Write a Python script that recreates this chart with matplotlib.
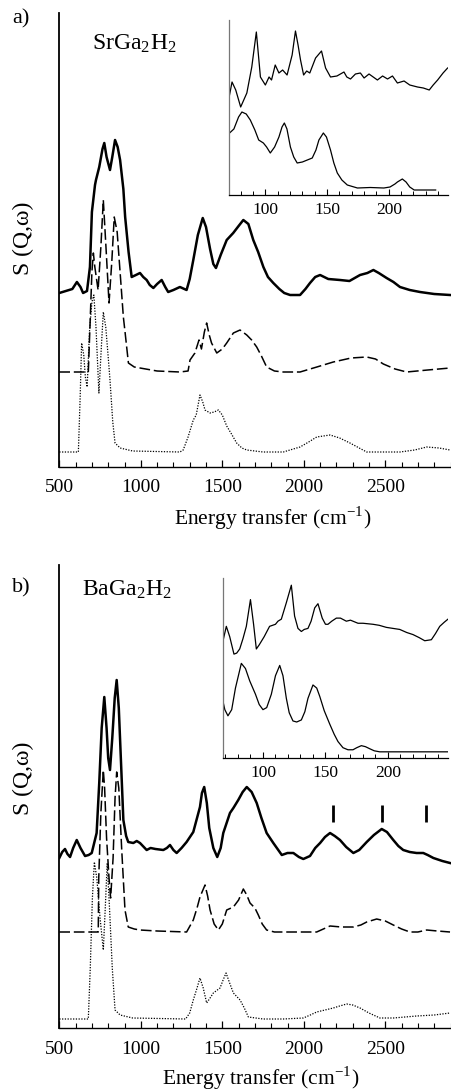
import numpy as np
import matplotlib.pyplot as plt

plt.rcParams['font.family'] = ['Liberation Serif', 'DejaVu Serif']
plt.rcParams['mathtext.fontset'] = 'stix'

# ---------------- panel a) SrGa2H2 (energy in cm-1, intensity in arb. units) ----------------
a_exp_e = [500, 540, 580, 608, 630, 646, 670, 688, 700, 719, 725, 745, 765, 776, 790, 811, 825, 842,
           858, 873, 893, 904, 925, 944, 970, 995, 1015, 1036, 1055, 1077, 1100, 1128, 1150, 1168, 1200,
           1240, 1281, 1300, 1322, 1350, 1380, 1400, 1425, 1445, 1461, 1490, 1527, 1567, 1600, 1629, 1660,
           1690, 1720, 1752, 1780, 1813, 1850, 1880, 1916, 1977, 2010, 2038, 2070, 2100, 2150, 2222, 2280,
           2345, 2390, 2427, 2460, 2508, 2550, 2590, 2650, 2713, 2800, 2897]
a_exp_v = [174, 176, 178, 185, 180, 174, 176, 200, 255, 282, 287, 300, 318, 324, 310, 297, 310, 327,
           320, 307, 278, 250, 215, 190, 192, 194, 190, 187, 182, 179, 183, 187, 180, 175, 177,
           180, 177, 188, 207, 232, 249, 240, 218, 203, 199, 212, 227, 234, 241, 247, 243,
           227, 215, 200, 190, 184, 178, 174, 172, 172, 178, 184, 190, 192, 188, 187, 186,
           192, 194, 197, 194, 189, 185, 180, 177, 175, 173, 172]

a_calc_e = [500, 600, 678, 688, 700, 709, 718, 738, 755, 770, 788, 805, 822, 837, 855, 872, 893, 904,
            924, 960, 995, 1100, 1240, 1290, 1302, 1332, 1357, 1372, 1390, 1404, 1420, 1434, 1466, 1500,
            1527, 1568, 1609, 1650, 1680, 1711, 1740, 1772, 1820, 1874, 1977, 2080, 2181, 2290, 2386,
            2440, 2488, 2560, 2631, 2760, 2897]
a_calc_v = [95, 95, 95, 140, 195, 214, 200, 177, 220, 267, 215, 164, 205, 250, 235, 197, 150, 134,
            104, 100, 99, 96, 95, 96, 107, 114, 127, 118, 135, 144, 132, 124, 114, 118,
            124, 134, 137, 132, 127, 120, 111, 100, 96, 95, 95, 100, 105, 109, 110,
            108, 103, 98, 95, 97, 99]

a_dft_e = [500, 600, 617, 628, 637, 650, 660, 671, 685, 700, 712, 725, 743, 758, 770, 785, 800, 811,
           828, 842, 873, 950, 1240, 1260, 1290, 1322, 1340, 1363, 1380, 1394, 1425, 1450, 1476, 1500,
           1527, 1560, 1588, 1620, 1650, 1750, 1874, 1977, 2030, 2079, 2161, 2220, 2283, 2340, 2386,
           2500, 2590, 2680, 2754, 2830, 2897]
a_dft_v = [15, 15, 15, 70, 124, 112, 90, 80, 135, 165, 172, 140, 74, 120, 155, 140, 110, 87,
           45, 24, 19, 16, 15, 17, 30, 47, 52, 72, 65, 57, 54, 55, 57, 52,
           41, 32, 24, 19, 17, 15, 15, 20, 25, 30, 32, 29, 24, 19, 15,
           15, 15, 17, 20, 19, 17]

ins_a_exp_e = [70.5, 73, 76, 80, 85, 89, 92.7, 96, 100, 103, 105, 108, 111, 114, 117.6, 121.7, 124.4,
               126.5, 128.5, 131, 133.5, 136, 140.7, 145.5, 148.8, 152.8, 158, 163.7, 166, 169, 173,
               177, 180, 184, 190.8, 195, 199, 203, 207, 212.4, 217, 223.3, 228, 232.8, 236, 239.6,
               244, 247.7]
ins_a_exp_v = [97, 113, 105, 88, 102, 128, 163, 118, 110, 118, 115, 130, 122, 125, 120, 140, 164,
               150, 135, 120, 124, 122, 137, 144, 127, 118, 119, 123, 118, 116, 121,
               122, 117, 121, 115, 119, 116, 119, 112, 114, 110, 108, 107, 105, 110, 115,
               122, 127]
ins_a_calc_e = [71, 74.5, 78.3, 81, 84.5, 87.8, 91.5, 94.6, 98.4, 101, 104, 107.5, 111, 113.5, 115.4,
                117.5, 120.3, 123, 125.8, 130, 134, 138, 141, 143.4, 147, 149.5, 152.8, 155.5, 158.3,
                162, 166.4, 174.6, 185, 196, 201, 205, 207, 211, 214, 217, 220.6, 230, 238]
ins_a_calc_v = [62, 66, 78, 83, 81, 75, 65, 55, 52, 48, 42, 48, 58, 68, 72,
                66, 48, 38, 32, 33, 35, 37, 45, 55, 62, 58, 45, 32, 22,
                15, 10, 7, 7.5, 7, 8, 11, 13, 16, 13, 8, 5, 5, 5]

# ---------------- panel b) BaGa2H2 ----------------
b_exp_e = [500, 518, 535, 550, 566, 585, 607, 630, 658, 680, 699, 729, 745, 760, 776, 790, 800, 811,
           825, 840, 852, 865, 880, 893, 910, 923, 954, 975, 995, 1036, 1060, 1090, 1138, 1160, 1179,
           1200, 1220, 1250, 1281, 1322, 1363, 1375, 1389, 1405, 1420, 1445, 1469, 1490, 1506, 1547,
           1568, 1598, 1625, 1650, 1680, 1711, 1740, 1772, 1813, 1865, 1900, 1936, 1970, 1997, 2038,
           2070, 2100, 2130, 2161, 2190, 2222, 2260, 2304, 2340, 2386, 2430, 2478, 2510, 2549, 2580,
           2610, 2650, 2692, 2733, 2760, 2795, 2850, 2897]
b_exp_v = [170, 176, 179, 174, 171, 180, 188, 180, 172, 173, 175, 195, 245, 300, 331, 300, 270, 258,
           290, 330, 348, 320, 260, 208, 192, 186, 185, 187, 185, 178, 180, 179, 178, 180, 183,
           178, 175, 180, 186, 196, 221, 235, 241, 225, 200, 180, 171, 180, 195, 215,
           220, 228, 236, 241, 236, 225, 210, 195, 185, 173, 175, 175, 171, 169, 172,
           180, 185, 191, 195, 192, 188, 181, 175, 178, 186, 193, 199, 196, 188, 182,
           178, 176, 175, 175, 173, 170, 167, 165]

b_calc_e = [500, 600, 700, 739, 742, 755, 770, 778, 790, 805, 815, 830, 842, 852, 865, 883, 903, 923,
            960, 995, 1100, 1281, 1322, 1345, 1363, 1394, 1410, 1425, 1450, 1476, 1500, 1527, 1568, 1600,
            1629, 1650, 1670, 1700, 1721, 1745, 1772, 1820, 1874, 2079, 2120, 2161, 2230, 2304, 2350,
            2386, 2447, 2500, 2549, 2600, 2651, 2700, 2754, 2820, 2897]
b_calc_v = [96, 96, 96, 96, 150, 215, 258, 240, 190, 150, 130, 170, 230, 256, 240, 178, 118, 101,
            99, 98, 97, 96, 108, 120, 131, 143, 132, 118, 104, 98, 104, 118, 121, 128,
            139, 133, 125, 120, 113, 104, 98, 96, 96, 96, 99, 102, 101, 101, 103,
            106, 109, 107, 103, 99, 96, 96, 98, 97, 96]

b_dft_e = [500, 600, 678, 690, 703, 715, 730, 750, 770, 782, 794, 808, 825, 842, 873, 950, 1275,
           1300, 1322, 1345, 1363, 1383, 1404, 1425, 1445, 1486, 1505, 1523, 1545, 1568, 1609, 1635,
           1660, 1750, 1874, 1997, 2040, 2079, 2130, 2181, 2220, 2263, 2300, 2345, 2400, 2467, 2550,
           2692, 2800, 2897]
b_dft_v = [9, 9, 9, 60, 130, 166, 150, 110, 78, 120, 165, 120, 60, 18, 13, 10, 9,
           15, 28, 40, 50, 40, 25, 30, 35, 40, 48, 55, 45, 35, 28, 20,
           11, 9, 9, 10, 13, 16, 18, 20, 22, 24, 23, 20, 15, 10, 10,
           12, 13, 15]

b_marks = [2180, 2480, 2750]

ins_b_exp_e = [67.5, 70.7, 73.4, 76.8, 79, 81.4, 84, 86.7, 90, 92.5, 94.7, 97, 101, 105.3, 110, 112,
               114.7, 118.7, 122.7, 125.3, 128, 130.7, 133, 136, 138.5, 141.4, 144, 147.4, 150, 152,
               155, 158.7, 162, 166.7, 170, 176, 180, 188, 193, 198.7, 204, 209.4, 215, 220, 225,
               229.4, 234.7, 238, 241.4, 245, 248]
ins_b_exp_v = [111, 128, 118, 101, 102, 106, 116, 128, 154, 130, 106, 110, 118, 128, 130, 133,
               135, 151, 168, 138, 126, 123, 125, 126, 133, 146, 150, 136, 130, 130,
               133, 136, 136, 133, 134, 131, 131, 130, 129, 127, 126, 125, 122, 120, 117,
               114, 115, 121, 128, 132, 135]
ins_b_calc_e = [67.5, 69.5, 72, 75, 78, 82.7, 86, 89.4, 94, 97, 100, 103, 106.7, 110, 113.4, 116,
                118.7, 121, 124, 127, 130.7, 133.5, 136, 140, 143, 145.4, 149, 153.4, 157, 160, 164,
                168, 172, 175, 178.7, 182, 185.4, 189, 193.4, 210, 230, 248]
ins_b_calc_v = [58, 47, 41, 47, 68, 92, 87, 75, 62, 52, 47, 49, 62, 80, 90, 80,
                58, 44, 36, 35, 37, 45, 58, 71, 68, 60, 46, 33, 23, 16, 10,
                8, 8, 10, 12, 11, 9, 7, 6, 6, 6, 6]

W, H = 451, 1091
fig = plt.figure(figsize=(W / 100, H / 100), dpi=100)


def px_box(x0, y0, x1, y1):
    # pixel box (top-left origin) -> figure fraction rect
    return [x0 / W, 1 - y1 / H, (x1 - x0) / W, (y1 - y0) / H]


def main_axes(rect, ytop):
    ax = fig.add_axes(rect)
    ax.set_xlim(500, 2900)
    ax.set_ylim(0, ytop)
    for s in ('top', 'right'):
        ax.spines[s].set_visible(False)
    ax.spines['left'].set_linewidth(1.3)
    ax.spines['bottom'].set_linewidth(1.0)
    ax.set_yticks([])
    ax.set_xticks([500, 1000, 1500, 2000, 2500])
    ax.set_xticks(np.arange(600, 2901, 100), minor=True)
    ax.tick_params(axis='x', which='major', direction='in', length=5, width=0.9,
                   labelsize=14, pad=9)
    ax.tick_params(axis='x', which='minor', direction='in', length=3.5, width=0.8)
    ax.patch.set_alpha(0)
    return ax


def inset_axes(rect):
    ax = fig.add_axes(rect)
    ax.set_xlim(70, 248)
    ax.set_ylim(0, 175)
    for s in ('top', 'right'):
        ax.spines[s].set_visible(False)
    ax.spines['left'].set_color('#777777')
    ax.spines['left'].set_linewidth(0.9)
    ax.spines['bottom'].set_linewidth(0.9)
    ax.set_yticks([])
    ax.set_xticks([100, 150, 200])
    ax.set_xticks(np.arange(70, 249, 10), minor=True)
    ax.tick_params(axis='x', which='major', direction='in', length=4, width=0.8,
                   labelsize=12.5, pad=5)
    ax.tick_params(axis='x', which='minor', direction='in', length=3, width=0.7)
    ax.patch.set_alpha(0)
    return ax


dash = (0, (7, 2.5))
dot = (0, (1, 1.2))

# panel a
ax1 = main_axes(px_box(59.3, 13, 450.5, 467), 454)
ax1.plot(a_exp_e, a_exp_v, color='black', lw=1.8)
ax1.plot(a_calc_e, a_calc_v, color='black', lw=1.1, linestyle=dash)
ax1.plot(a_dft_e, a_dft_v, color='black', lw=0.9, linestyle=dot)

in1 = inset_axes(px_box(228.7, 20, 448, 195))
in1.set_xlim(70.3, 248)
in1.plot(ins_a_exp_e, ins_a_exp_v, color='black', lw=0.9)
in1.plot(ins_a_calc_e, ins_a_calc_v, color='black', lw=0.9)

# panel b
ax2 = main_axes(px_box(59.3, 565, 450.5, 1028), 463)
ax2.plot(b_exp_e, b_exp_v, color='black', lw=1.8)
ax2.plot(b_calc_e, b_calc_v, color='black', lw=1.1, linestyle=dash)
ax2.plot(b_dft_e, b_dft_v, color='black', lw=0.9, linestyle=dot)
ax2.vlines(b_marks, 206, 223, color='black', lw=2.0)

in2 = inset_axes(px_box(222.7, 578, 448, 758))
in2.set_xlim(67.8, 248)
in2.plot(ins_b_exp_e, ins_b_exp_v, color='black', lw=0.9)
in2.plot(ins_b_calc_e, ins_b_calc_v, color='black', lw=0.9)

# texts


def ftext(x, y, s, **kw):
    fig.text(x / W, 1 - y / H, s, **kw)


ftext(12, 19, 'a)', fontsize=16, va='center', ha='left')
ftext(92, 50, r'SrGa$_\mathregular{2}$H$_\mathregular{2}$', fontsize=17, va='baseline', ha='left')
ftext(23, 238, 'S (Q,ω)', fontsize=17, va='center', ha='center', rotation=90)
ftext(273, 518, r'Energy transfer (cm$^\mathregular{-1}$)', fontsize=15.5, va='center', ha='center')

ftext(12, 588, 'b)', fontsize=16, va='center', ha='left')
ftext(82, 596, r'BaGa$_\mathregular{2}$H$_\mathregular{2}$', fontsize=17, va='baseline', ha='left')
ftext(23, 778, 'S (Q,ω)', fontsize=17, va='center', ha='center', rotation=90)
ftext(261, 1078, r'Energy transfer (cm$^\mathregular{-1}$)', fontsize=15.5, va='center', ha='center')

fig.savefig('out.png', dpi=100)
